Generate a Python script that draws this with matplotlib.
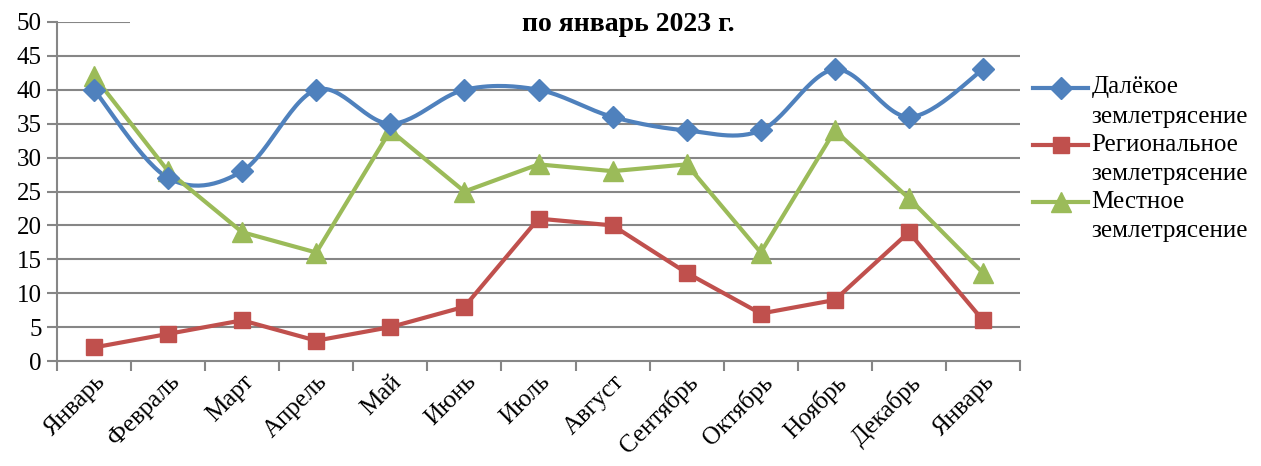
import matplotlib.pyplot as plt
import numpy as np
from matplotlib.lines import Line2D
from matplotlib.patches import Rectangle

months = ["Январь", "Февраль", "Март", "Апрель", "Май", "Июнь", "Июль",
          "Август", "Сентябрь", "Октябрь", "Ноябрь", "Декабрь", "Январь"]
far_eq = [40, 27, 28, 40, 35, 40, 40, 36, 34, 34, 43, 36, 43]
regional_eq = [2, 4, 6, 3, 5, 8, 21, 20, 13, 7, 9, 19, 6]
local_eq = [42, 28, 19, 16, 34, 25, 29, 28, 29, 16, 34, 24, 13]
yticks = list(range(0, 55, 5))

BLUE = "#4F81BD"
RED = "#C0504D"
GREEN = "#9BBB59"
GRID = "#868686"


def smooth(x, y, n=30):
    # bezier smoothing like the office "smoothed line" option
    x = np.asarray(x, float)
    y = np.asarray(y, float)
    px = np.concatenate([[x[0]], x, [x[-1]]])
    py = np.concatenate([[y[0]], y, [y[-1]]])
    xs, ys = [], []
    t = np.linspace(0, 1, n)
    for i in range(1, len(px) - 2):
        p0 = np.array([px[i], py[i]])
        p3 = np.array([px[i + 1], py[i + 1]])
        p1 = p0 + (p3 - np.array([px[i - 1], py[i - 1]])) / 6
        p2 = p3 - (np.array([px[i + 2], py[i + 2]]) - p0) / 6
        b = ((1 - t) ** 3)[:, None] * p0 + (3 * (1 - t) ** 2 * t)[:, None] * p1 \
            + (3 * (1 - t) * t ** 2)[:, None] * p2 + (t ** 3)[:, None] * p3
        xs.extend(b[:, 0])
        ys.extend(b[:, 1])
    return xs, ys


plt.rcParams["font.family"] = ["Liberation Serif", "DejaVu Serif"]

fig = plt.figure(figsize=(12.61, 4.66), dpi=100)
ax = fig.add_axes([0.0452, 0.2253, 0.7637, 0.7275])

x = np.arange(len(months))
ax.set_xlim(-0.5, len(months) - 0.5)
ax.set_ylim(0, 50)

for v in yticks[1:]:
    ax.axhline(v, color=GRID, lw=1.5, zorder=1)

lw = 3.0
sx, sy = smooth(x, far_eq)
ax.plot(sx, sy, color=BLUE, lw=lw, zorder=3, solid_capstyle="round")
ax.plot(x, far_eq, ls="none", marker="D", ms=11, color=BLUE, zorder=4)
ax.plot(x, regional_eq, color=RED, lw=lw, marker="s", ms=12, zorder=3)
ax.plot(x, local_eq, color=GREEN, lw=lw, marker="^", ms=14, zorder=3)

ax.set_yticks(yticks)
ax.set_xticks(np.arange(len(months) + 1) - 0.5)
ax.set_xticklabels([])
ax.set_xticks(x, minor=True)
ax.set_xticklabels(months, minor=True, rotation=45, ha="right",
                   rotation_mode="anchor", fontsize=18)
ax.tick_params(axis="x", which="minor", length=0, pad=7)
ax.tick_params(axis="x", which="major", length=7, width=1.5, color=GRID)
ax.tick_params(axis="y", length=7, width=1.5, color=GRID, labelsize=18, pad=4)

for s in ["top", "right"]:
    ax.spines[s].set_visible(False)
for s in ["left", "bottom"]:
    ax.spines[s].set_color(GRID)
    ax.spines[s].set_linewidth(1.5)

# white title area hides the top gridline, as in the source chart
fig.add_artist(Rectangle((0.103, 0.93), 0.9, 0.07, transform=fig.transFigure,
                         facecolor="white", edgecolor="none", zorder=5))
fig.text(0.498, 0.948, "по январь 2023 г.", ha="center", va="center",
         fontsize=20, fontweight="bold", zorder=6)

# legend drawn by hand so the marker sits on the first line of each label
entries = [(BLUE, "D", 11, "Далёкое\nземлетрясение", 0.811),
           (RED, "s", 12, "Региональное\nземлетрясение", 0.688),
           (GREEN, "^", 14, "Местное\nземлетрясение", 0.566)]
for color, mk, ms, label, yy in entries:
    fig.add_artist(Line2D([0.8195, 0.8625], [yy, yy], color=color, lw=lw,
                          transform=fig.transFigure))
    fig.add_artist(Line2D([0.841], [yy], color=color, marker=mk, ms=ms,
                          transform=fig.transFigure))
    fig.text(0.8655, yy + 0.025, label, ha="left", va="top", fontsize=18,
             linespacing=1.42)

fig.savefig("out.png", dpi=100)
